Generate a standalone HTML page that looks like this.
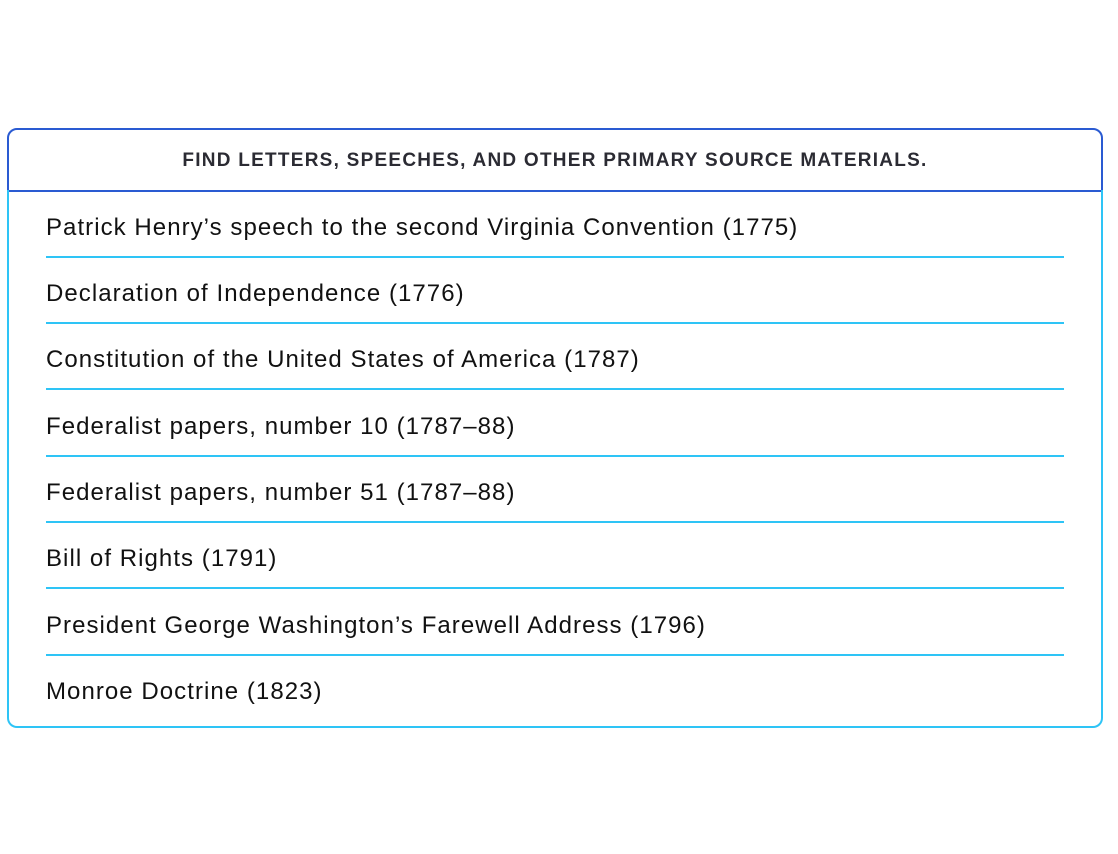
<!DOCTYPE html>
<html><head><style>
body{margin:0;width:1118px;height:854px;background:#fff;font-family:"Liberation Sans",sans-serif;position:relative;overflow:hidden}
.hdr{position:absolute;left:7px;top:128px;width:1092px;height:60px;border:2px solid #2a5bd2;border-radius:10px 10px 0 0;text-align:center;line-height:62px;font-weight:bold;font-size:19px;letter-spacing:1.25px;color:#2b2b33}
.body{position:absolute;left:7px;top:190px;width:1092px;height:536px;border:2px solid #2ec4f6;border-top:none;border-radius:0 0 10px 10px}
.row{position:absolute;left:46px;width:1018px;height:64px;border-bottom:2.5px solid #2ec4f6;font-size:24px;letter-spacing:1.05px;color:#111;line-height:67px;box-sizing:border-box;white-space:nowrap}
.row.last{border-bottom:none}
</style></head><body>
<div class="hdr">FIND LETTERS, SPEECHES, AND OTHER PRIMARY SOURCE MATERIALS.</div>
<div class="body"></div>
<div class="row" style="top:194px">Patrick Henry’s speech to the second Virginia Convention (1775)</div>
<div class="row" style="top:260px">Declaration of Independence (1776)</div>
<div class="row" style="top:326px">Constitution of the United States of America (1787)</div>
<div class="row" style="top:393px">Federalist papers, number 10 (1787–88)</div>
<div class="row" style="top:459px">Federalist papers, number 51 (1787–88)</div>
<div class="row" style="top:525px">Bill of Rights (1791)</div>
<div class="row" style="top:592px">President George Washington’s Farewell Address (1796)</div>
<div class="row last" style="top:658px">Monroe Doctrine (1823)</div>
</body></html>
